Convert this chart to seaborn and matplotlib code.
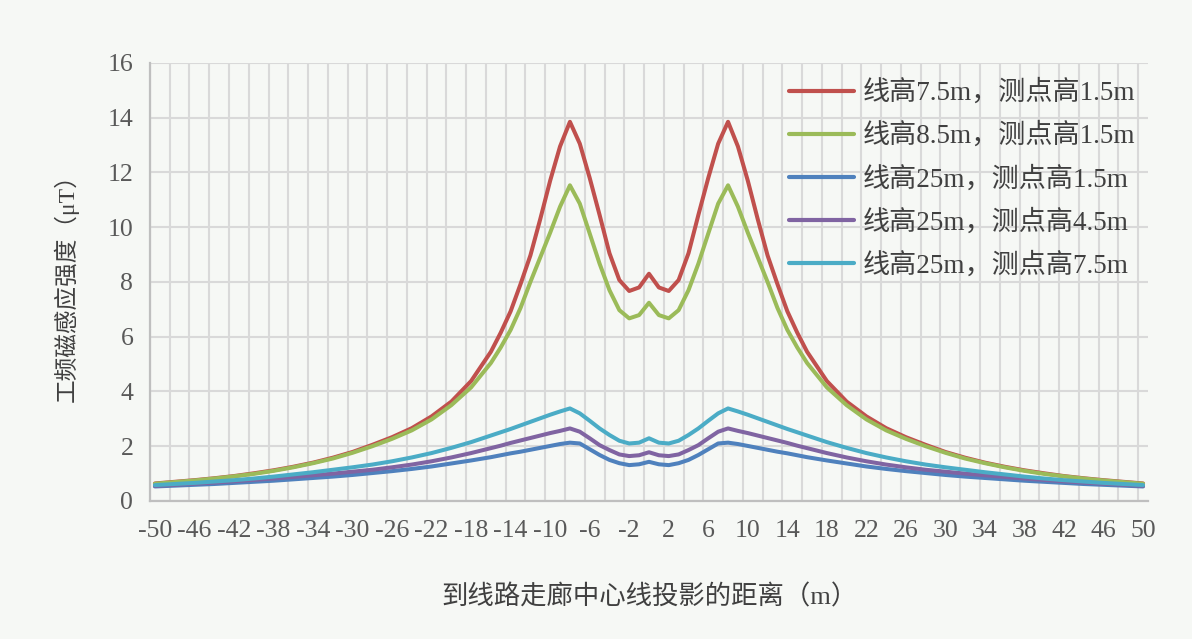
import numpy as np
import pandas as pd
import matplotlib
matplotlib.use('Agg')
import matplotlib.pyplot as plt
import seaborn as sns

# 到线路走廊中心线投影的距离 (m)
x_dist = [-50, -48, -46, -44, -42, -40, -38, -36, -34, -32, -30, -28, -26, -24, -22, -20, -18, -16,
          -15, -14, -13, -12, -11, -10, -9, -8, -7, -6, -5, -4, -3, -2, -1,
          0,
          1, 2, 3, 4, 5, 6, 7, 8, 9, 10, 11, 12, 13, 14, 15,
          16, 18, 20, 22, 24, 26, 28, 30, 32, 34, 36, 38, 40, 42, 44, 46, 48, 50]

# 线高7.5m，测点高1.5m
b_red = [0.64, 0.70, 0.76, 0.83, 0.91, 1.01, 1.12, 1.25, 1.40, 1.58, 1.79, 2.05, 2.33, 2.66, 3.09, 3.63, 4.38, 5.45,
         6.15, 6.93, 7.92, 8.97, 10.3, 11.7, 12.95, 13.85, 13.05, 11.8, 10.45, 9.05, 8.07, 7.67, 7.8,
         8.3,
         7.8, 7.67, 8.07, 9.05, 10.45, 11.8, 13.05, 13.85, 12.95, 11.7, 10.3, 8.97, 7.92, 6.93, 6.15,
         5.45, 4.38, 3.63, 3.09, 2.66, 2.33, 2.05, 1.79, 1.58, 1.40, 1.25, 1.12, 1.01, 0.91, 0.83, 0.76, 0.70, 0.64]

# 线高8.5m，测点高1.5m
b_green = [0.63, 0.69, 0.75, 0.82, 0.90, 0.99, 1.10, 1.23, 1.38, 1.55, 1.76, 2.00, 2.27, 2.58, 2.98, 3.50, 4.15, 5.04,
           5.61, 6.25, 7.05, 8.0, 8.9, 9.8, 10.75, 11.53, 10.86, 9.77, 8.67, 7.70, 6.97, 6.67, 6.79,
           7.24,
           6.79, 6.67, 6.97, 7.70, 8.67, 9.77, 10.86, 11.53, 10.75, 9.8, 8.9, 8.0, 7.05, 6.25, 5.61,
           5.04, 4.15, 3.50, 2.98, 2.58, 2.27, 2.00, 1.76, 1.55, 1.38, 1.23, 1.10, 0.99, 0.90, 0.82, 0.75, 0.69, 0.63]

# 线高25m，测点高1.5m
b_blue = [0.53, 0.56, 0.59, 0.62, 0.66, 0.70, 0.74, 0.79, 0.84, 0.89, 0.95, 1.02, 1.09, 1.17, 1.26, 1.37, 1.48, 1.60,
          1.67, 1.74, 1.80, 1.87, 1.94, 2.01, 2.08, 2.13, 2.10, 1.89, 1.68, 1.50, 1.38, 1.31, 1.34,
          1.43,
          1.34, 1.31, 1.38, 1.50, 1.68, 1.89, 2.10, 2.13, 2.08, 2.01, 1.94, 1.87, 1.80, 1.74, 1.67,
          1.60, 1.48, 1.37, 1.26, 1.17, 1.09, 1.02, 0.95, 0.89, 0.84, 0.79, 0.74, 0.70, 0.66, 0.62, 0.59, 0.56, 0.53]

# 线高25m，测点高4.5m
b_purple = [0.55, 0.59, 0.63, 0.67, 0.72, 0.77, 0.82, 0.88, 0.94, 1.00, 1.07, 1.14, 1.23, 1.33, 1.45, 1.59, 1.75, 1.93,
            2.02, 2.12, 2.21, 2.30, 2.39, 2.48, 2.56, 2.65, 2.53, 2.29, 2.04, 1.86, 1.70, 1.64, 1.67,
            1.78,
            1.67, 1.64, 1.70, 1.86, 2.04, 2.29, 2.53, 2.65, 2.56, 2.48, 2.39, 2.30, 2.21, 2.12, 2.02,
            1.93, 1.75, 1.59, 1.45, 1.33, 1.23, 1.14, 1.07, 1.00, 0.94, 0.88, 0.82, 0.77, 0.72, 0.67, 0.63, 0.59, 0.55]

# 线高25m，测点高7.5m
b_cyan = [0.58, 0.62, 0.66, 0.71, 0.76, 0.82, 0.89, 0.97, 1.05, 1.14, 1.23, 1.33, 1.45, 1.59, 1.75, 1.94, 2.15, 2.39,
          2.51, 2.63, 2.76, 2.89, 3.02, 3.15, 3.27, 3.38, 3.20, 2.93, 2.65, 2.41, 2.20, 2.10, 2.13,
          2.29,
          2.13, 2.10, 2.20, 2.41, 2.65, 2.93, 3.20, 3.38, 3.27, 3.15, 3.02, 2.89, 2.76, 2.63, 2.51,
          2.39, 2.15, 1.94, 1.75, 1.59, 1.45, 1.33, 1.23, 1.14, 1.05, 0.97, 0.89, 0.82, 0.76, 0.71, 0.66, 0.62, 0.58]

series_names = ['线高7.5m，测点高1.5m', '线高8.5m，测点高1.5m', '线高25m，测点高1.5m',
                '线高25m，测点高4.5m', '线高25m，测点高7.5m']
series_colors = ['#C0504D', '#9BBB59', '#4F81BD', '#8064A2', '#4BACC6']
x_ticks = [-50, -46, -42, -38, -34, -30, -26, -22, -18, -14, -10, -6, -2, 2, 6, 10, 14, 18,
           22, 26, 30, 34, 38, 42, 46, 50]

frames = []
for name, vals in zip(series_names, [b_red, b_green, b_blue, b_purple, b_cyan]):
    frames.append(pd.DataFrame({'距离': x_dist, '磁感应强度': vals, '工况': name}))
df = pd.concat(frames, ignore_index=True)

sns.set_theme(style='white')
bg = '#F6F8F5'
plt.rcParams['font.family'] = ['Liberation Serif', 'Noto Sans CJK SC', 'DejaVu Sans']
plt.rcParams['axes.unicode_minus'] = False

fig = plt.figure(figsize=(11.92, 6.39), dpi=100, facecolor=bg)
ax = fig.add_axes([0.1258, 0.216, 0.8373, 0.6855])
ax.set_facecolor(bg)

sns.lineplot(data=df, x='距离', y='磁感应强度', hue='工况', hue_order=series_names,
             palette=series_colors, linewidth=2.9, estimator=None, sort=False, ax=ax)

ax.set_xlim(-50.5, 50.5)
ax.set_ylim(0, 16)
ax.set_yticks(np.arange(0, 17, 2))
ax.set_xticks(x_ticks)
ax.set_xticklabels([str(v) for v in x_ticks])
ax.set_xticks(np.arange(-50.5, 50, 2), minor=True)

ax.set_axisbelow(True)
ax.grid(False)
ax.grid(axis='y', which='major', color='#D9D9D9', linewidth=1.5)
ax.grid(axis='x', which='minor', color='#D9D9D9', linewidth=1.5)
ax.tick_params(which='both', length=0)
ax.tick_params(axis='x', pad=14, labelsize=18.5, colors='#595959')
ax.tick_params(axis='y', pad=12, labelsize=18.5, colors='#595959')

for side in ['top', 'right']:
    ax.spines[side].set_visible(False)
for side in ['left', 'bottom']:
    ax.spines[side].set_color('#BFBFBF')
    ax.spines[side].set_linewidth(1.6)

ax.set_xlabel('到线路走廊中心线投影的距离（m）', fontsize=19, color='#404040')
ax.set_ylabel('工频磁感应强度（μT）', fontsize=17, color='#404040')
ax.xaxis.set_label_coords(0.5, -0.19)
ax.yaxis.set_label_coords(-0.071, 0.5)

sns.move_legend(ax, 'upper left', bbox_to_anchor=(0.64, 0.962), frameon=False, title=None,
                fontsize=19.5, handlelength=2.4, handletextpad=0.35, labelspacing=0.62,
                borderpad=0, borderaxespad=0)
for t in ax.get_legend().get_texts():
    t.set_color('#404040')
for h in ax.get_legend().legend_handles:
    h.set_linewidth(3.0)

fig.savefig('out.png', dpi=100, facecolor=bg)
